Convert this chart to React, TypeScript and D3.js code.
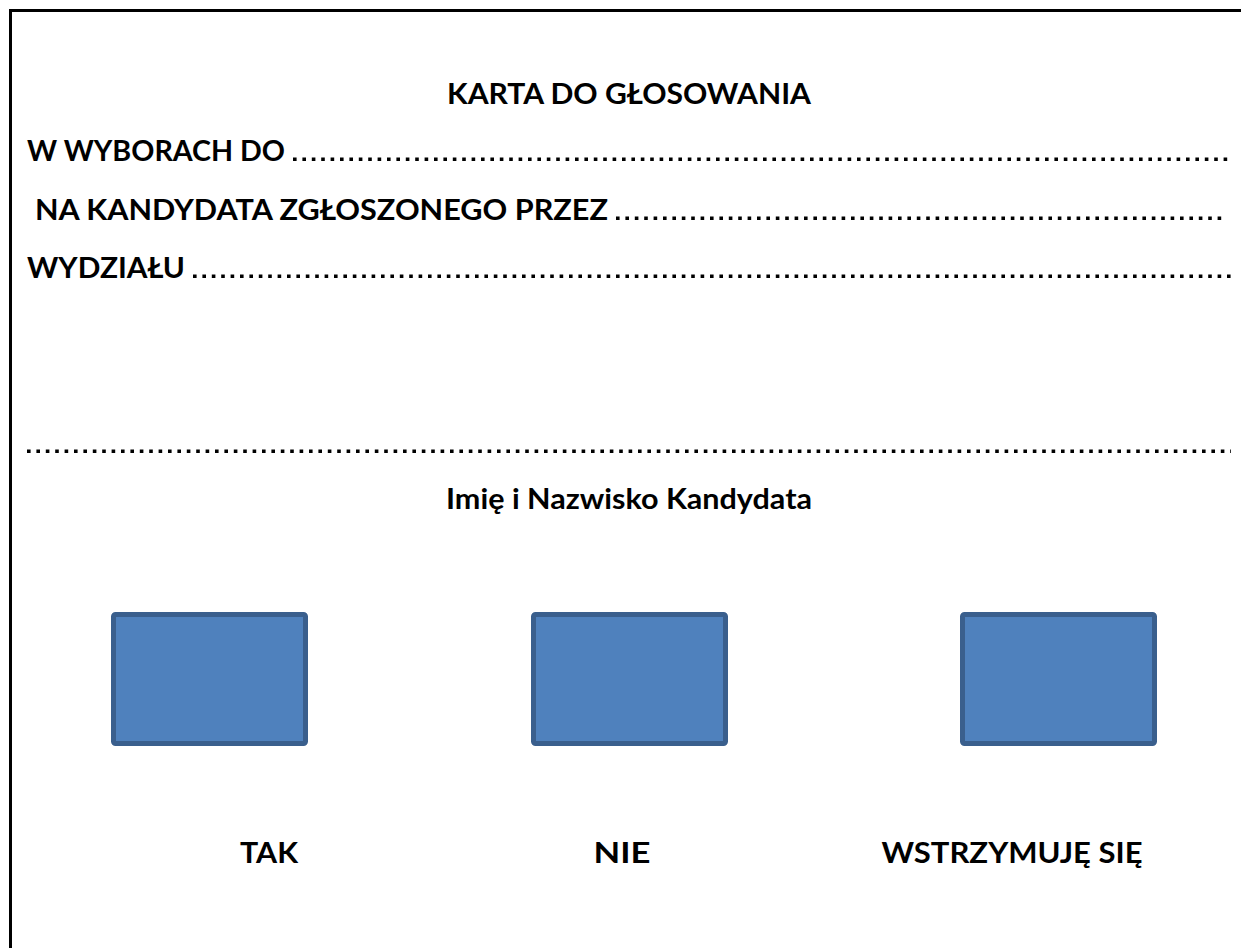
import React, { useEffect } from 'react';
import * as d3 from 'd3';

const title = 'KARTA DO GŁOSOWANIA';
const fieldLabels = ['W WYBORACH DO', 'NA KANDYDATA ZGŁOSZONEGO PRZEZ', 'WYDZIAŁU', ''];
const candidateLabel = 'Imię i Nazwisko Kandydata';
const options = ['TAK', 'NIE', 'WSTRZYMUJĘ SIĘ'];

const W = 1241;
const H = 948;
const font = 'Lato, "Open Sans", sans-serif';

export default function App() {
  useEffect(() => {
    document.documentElement.style.overflow = 'hidden';
    document.body.style.margin = '0';
  }, []);

  // rows of the ballot form, top to bottom
  const rowY = d3.scaleOrdinal<string, number>()
    .domain(fieldLabels)
    .range([161, 220, 278, 453]);
  const rowStart = d3.scaleOrdinal<string, number>()
    .domain(fieldLabels)
    .range([27, 35, 27, 27]);
  const rowTextW = d3.scaleOrdinal<string, number>()
    .domain(fieldLabels)
    .range([258, 573, 158, 0]);
  const rowEnd = d3.scaleOrdinal<string, number>()
    .domain(fieldLabels)
    .range([1231, 1224, 1231, 1231]);

  const boxX = d3.scaleOrdinal<string, number>()
    .domain(options)
    .range([209.5, 629.5, 1058.5]);
  const labelX = d3.scaleOrdinal<string, number>()
    .domain(options)
    .range([269, 622, 1012]);
  const labelW = d3.scaleOrdinal<string, number>()
    .domain(options)
    .range([58, 57, 261]);

  const boxW = 192;
  const boxH = 129;
  const boxTop = 614.5;

  return (
    <svg width={W} height={H} style={{ position: 'absolute', left: 0, top: 0, background: '#fff', display: 'block' }}
      fontFamily={font} fontWeight={700}>
      <rect x={10.5} y={10.5} width={W + 200} height={H + 200} fill="none" stroke="#000" strokeWidth={3} />

      <text x={447} y={104} fontSize={28} textLength={364} lengthAdjust="spacingAndGlyphs" fill="#000">{title}</text>

      {fieldLabels.map((f, i) => {
        const y = rowY(f);
        const x0 = rowStart(f);
        const tw = rowTextW(f);
        const dotStart = tw ? x0 + tw + 8 : x0;
        return (
          <g key={i}>
            {f && (
              <text x={x0} y={y} fontSize={28} textLength={tw} lengthAdjust="spacingAndGlyphs" fill="#000">{f}</text>
            )}
            <line x1={dotStart} x2={rowEnd(f)} y1={y - 1.8} y2={y - 1.8}
              stroke="#000" strokeWidth={3.6} strokeDasharray="3.6 5.8" />
          </g>
        );
      })}

      <text x={446} y={509} fontSize={28} textLength={366} lengthAdjust="spacingAndGlyphs" fill="#000">{candidateLabel}</text>

      {options.map(o => (
        <g key={o}>
          <rect x={boxX(o) - boxW / 2} y={boxTop} width={boxW} height={boxH} rx={2}
            fill="#4F81BD" stroke="#3A5F8D" strokeWidth={5} />
          <text x={labelX(o) - labelW(o) / 2} y={863} fontSize={28} textLength={labelW(o)}
            lengthAdjust="spacingAndGlyphs" fill="#000">{o}</text>
        </g>
      ))}
    </svg>
  );
}
